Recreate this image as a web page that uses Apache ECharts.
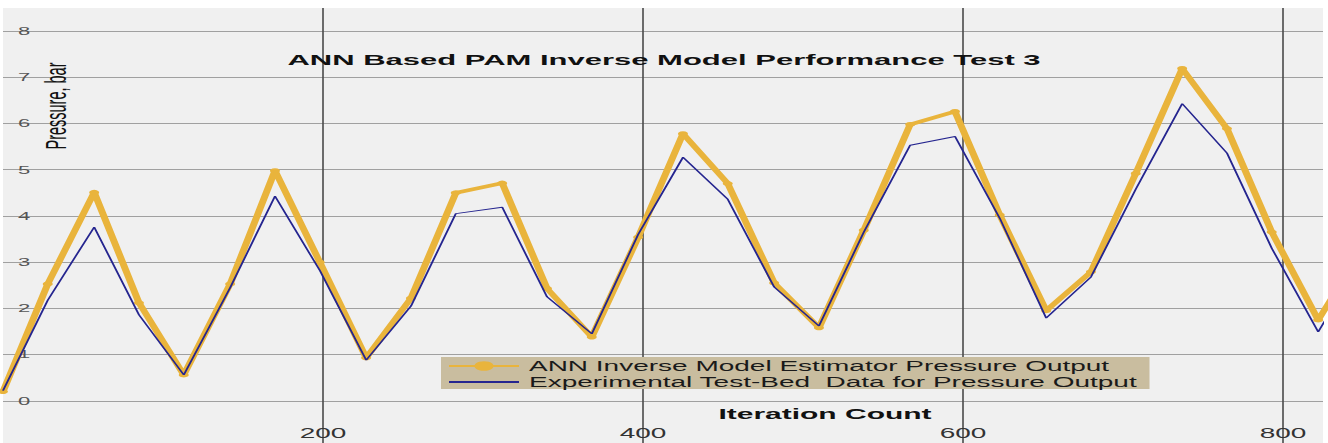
<!DOCTYPE html>
<html>
<head>
<meta charset="utf-8">
<script src="https://cdn.jsdelivr.net/npm/echarts@6/dist/echarts.min.js"></script>
<style>
html, body { margin: 0; padding: 0; background: #ffffff; overflow: hidden; width: 1328px; height: 443px; }
#chart { width: 664px; height: 447px; transform: scaleX(2); transform-origin: 0 0; }
</style>
</head>
<body>
<div id="chart"></div>
<script>
// ---- data ----
const iterationCount = [0, 28, 57, 85, 113, 142, 170, 198, 227, 255, 283, 312, 340, 368, 397, 425, 453, 482, 510, 538, 567, 595, 623, 652, 680, 708, 737, 765, 793, 822, 850];
const annEstimate = [0.2, 2.53, 4.51, 2.12, 0.56, 2.53, 4.98, 3.0, 0.93, 2.22, 4.5, 4.71, 2.43, 1.38, 3.54, 5.78, 4.7, 2.55, 1.58, 3.69, 5.98, 6.26, 4.02, 1.95, 2.79, 4.92, 7.19, 5.89, 3.65, 1.75, 3.3];
const experimentalData = [0.22, 2.18, 3.76, 1.86, 0.56, 2.45, 4.43, 2.82, 0.88, 2.05, 4.05, 4.19, 2.25, 1.45, 3.6, 5.27, 4.36, 2.46, 1.62, 3.65, 5.53, 5.72, 3.95, 1.79, 2.68, 4.58, 6.43, 5.36, 3.3, 1.49, 3.1];
const xTickLabels = [200, 400, 600, 800];
const yTickLabels = [0, 1, 2, 3, 4, 5, 6, 7, 8];
const seriesNames = ['ANN Inverse Model Estimator Pressure Output', 'Experimental Test-Bed  Data for Pressure Output'];
const chartTitle = 'ANN Based PAM Inverse Model Performance Test 3';
const xAxisTitle = 'Iteration Count';
const yAxisTitle = 'Pressure, bar';

const FONT = '"Liberation Sans", Arial, Helvetica, sans-serif';
const chart = echarts.init(document.getElementById('chart'), null, { renderer: 'svg' });

chart.setOption({
  animation: false,
  backgroundColor: '#ffffff',
  title: {
    text: chartTitle,
    left: 'center',
    top: 52,
    padding: 0,
    textStyle: { fontFamily: FONT, fontWeight: 'bold', fontSize: 15.5, color: '#111111' }
  },
  grid: {
    left: 1.5, right: 2.5, top: 8, bottom: 0,
    show: true, backgroundColor: '#f0f0f0', borderWidth: 0,
    containLabel: false
  },
  xAxis: {
    type: 'value',
    min: 0, max: 825, interval: 200,
    axisLine: { show: false },
    axisTick: { show: false },
    axisLabel: {
      inside: true, margin: 7, showMinLabel: false, showMaxLabel: false,
      fontFamily: FONT, fontSize: 14, color: '#333333',
      formatter: v => (xTickLabels.includes(v) ? String(v) : '')
    },
    splitLine: { show: true, showMinLine: false, showMaxLine: false, lineStyle: { color: '#4a4a4a', width: 0.8 } }
  },
  yAxis: {
    type: 'value',
    min: -1, max: 8.5, interval: 1,
    axisLine: { show: false },
    axisTick: { show: false },
    axisLabel: {
      inside: true, margin: 7.5, showMinLabel: false, showMaxLabel: false,
      fontFamily: FONT, fontSize: 11, color: '#555555',
      formatter: v => (yTickLabels.includes(v) ? String(v) : '')
    },
    splitLine: { show: true, showMinLine: false, showMaxLine: false, lineStyle: { color: '#a0a0a0', width: 1 } }
  },
  legend: {
    orient: 'vertical',
    left: 220.5, top: 357,
    padding: [2, 6, 0, 3],
    itemGap: 2, itemWidth: 35, itemHeight: 12,
    backgroundColor: '#c9bd9f',
    textStyle: { fontFamily: FONT, fontSize: 14, color: '#1a1a1a' },
    data: [
      { name: seriesNames[0] },
      { name: seriesNames[1], itemStyle: { opacity: 0 } }
    ]
  },
  graphic: [
    {
      type: 'text', x: 412.5, y: 414, z: 10,
      style: { text: xAxisTitle, fill: '#111111', font: 'bold 15px ' + FONT, textAlign: 'center', textVerticalAlign: 'middle' }
    },
    {
      type: 'text', x: 28, y: 106, rotation: Math.PI / 2, z: 10,
      style: { text: yAxisTitle, fill: '#111111', font: '14.5px ' + FONT, textAlign: 'center', textVerticalAlign: 'middle' }
    }
  ],
  series: [
    {
      name: seriesNames[0],
      type: 'line',
      data: iterationCount.map((x, i) => [x, annEstimate[i]]),
      symbol: 'circle', symbolSize: 5, showSymbol: true,
      lineStyle: { color: '#e9b43c', width: 3.6 },
      itemStyle: { color: '#e9b43c' },
      z: 2
    },
    {
      name: seriesNames[1],
      type: 'line',
      data: iterationCount.map((x, i) => [x, experimentalData[i]]),
      symbol: 'none',
      lineStyle: { color: '#25258f', width: 1 },
      itemStyle: { color: '#25258f' },
      z: 3
    }
  ]
});
</script>
</body>
</html>
